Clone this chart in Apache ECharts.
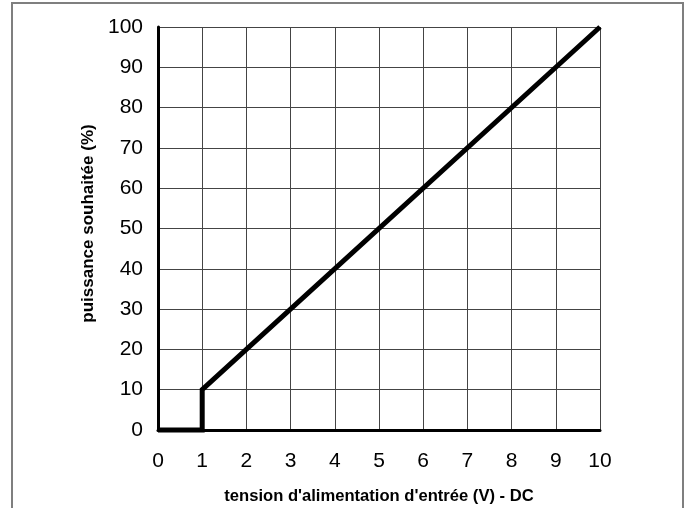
<!DOCTYPE html>
<html>
<head>
<meta charset="utf-8">
<script src="https://cdn.jsdelivr.net/npm/echarts@6/dist/echarts.min.js"></script>
<style>
  html, body { margin: 0; padding: 0; background: #fff; }
  #chart { width: 688px; height: 508px; }
</style>
</head>
<body>
<div id="chart"></div>
<script>
// Requested power as a function of DC input voltage
const voltage = [0, 1, 1, 10];
const power = [0, 0, 10, 100];
const xTicks = [0, 1, 2, 3, 4, 5, 6, 7, 8, 9, 10];
const yTicks = [0, 10, 20, 30, 40, 50, 60, 70, 80, 90, 100];
const xTitle = "tension d'alimentation d'entrée (V) - DC";
const yTitle = 'puissance souhaitée (%)';

const chart = echarts.init(document.getElementById('chart'), null, { renderer: 'canvas' });
const font = 'Liberation Sans, Arial, sans-serif';

chart.setOption({
  animation: false,
  backgroundColor: '#fff',
  graphic: [{
    type: 'rect',
    shape: { x: 12, y: 3, width: 671, height: 520 },
    style: { fill: 'none', stroke: '#7f7f7f', lineWidth: 2 },
    silent: true,
    z: -1
  }],
  grid: { left: 158, top: 27, right: 88, bottom: 78, outerBoundsMode: 'none' },
  xAxis: {
    type: 'value',
    min: xTicks[0],
    max: xTicks[xTicks.length - 1],
    interval: 1,
    name: xTitle,
    nameLocation: 'middle',
    nameGap: 58,
    nameTextStyle: { fontFamily: font, fontWeight: 'bold', fontSize: 16.6, color: '#000' },
    axisLine: { show: true, lineStyle: { color: '#000', width: 3 } },
    axisTick: { show: false },
    axisLabel: { margin: 21, fontFamily: font, fontSize: 21, color: '#000' },
    splitLine: { show: true, lineStyle: { color: '#444', width: 1 } }
  },
  yAxis: {
    type: 'value',
    min: yTicks[0],
    max: yTicks[yTicks.length - 1],
    interval: 10,
    name: yTitle,
    nameLocation: 'middle',
    nameGap: 55,
    nameRotate: 90,
    nameTextStyle: { fontFamily: font, fontWeight: 'bold', fontSize: 17, color: '#000', padding: [0, 0, 0, 10] },
    axisLine: { show: true, lineStyle: { color: '#000', width: 3 } },
    axisTick: { show: false },
    axisLabel: { margin: 15, fontFamily: font, fontSize: 21, color: '#000' },
    splitLine: { show: true, lineStyle: { color: '#444', width: 1 } }
  },
  series: [{
    type: 'line',
    data: voltage.map((v, i) => [v, power[i]]),
    showSymbol: false,
    lineStyle: { color: '#000', width: 5, join: 'miter' },
    clip: false,
    z: 5
  }]
});
</script>
</body>
</html>
